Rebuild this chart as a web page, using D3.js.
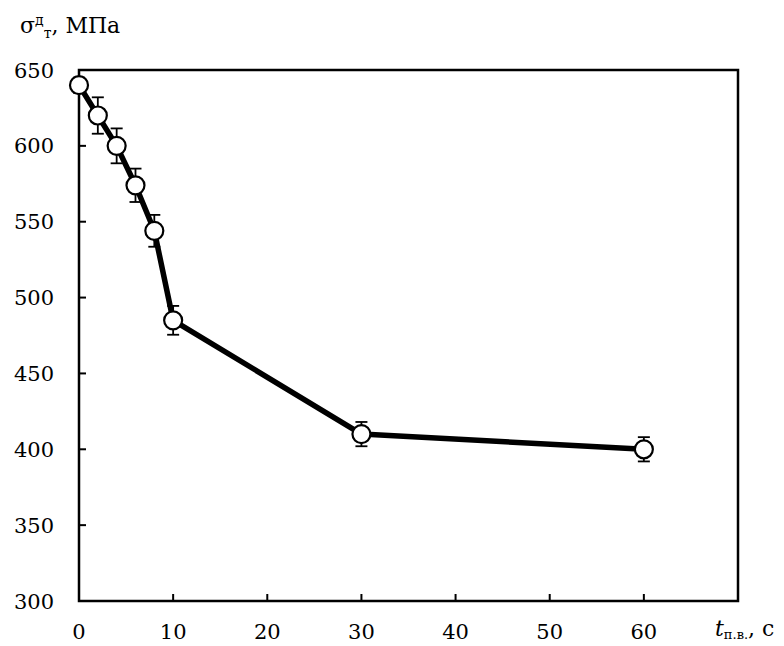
<!DOCTYPE html>
<html>
<head>
<meta charset="utf-8">
<script src="https://cdn.jsdelivr.net/npm/d3@7"></script>
<style>
  body { margin: 0; background: #fff; }
  text { font-family: "DejaVu Serif", serif; fill: #000; }
</style>
</head>
<body>
<div id="container"></div>
<script>
/* DATA */
const times = [0, 2, 4, 6, 8, 10, 30, 60];
const stress = [640, 620, 600, 574, 544, 485, 410, 400];
const errors = [5, 12, 11.5, 11, 10.5, 9.5, 8, 8];
const xTicks = [0, 10, 20, 30, 40, 50, 60];
const yTicks = [300, 350, 400, 450, 500, 550, 600, 650];

const data = times.map((t, i) => ({ t: t, s: stress[i], e: errors[i] }));

/* CONSTANTS */
const width = 784,
  height = 646,
  margin = { top: 70, right: 46, bottom: 45, left: 79 };

const svg = d3.select("#container").append("svg")
  .attr("width", width)
  .attr("height", height);

/* SCALES */
const xScale = d3.scaleLinear()
  .domain([0, 70])
  .range([margin.left, width - margin.right]);

const yScale = d3.scaleLinear()
  .domain([300, 650])
  .range([height - margin.bottom, margin.top]);

// frame
svg.append("rect")
  .attr("x", xScale(0))
  .attr("y", yScale(650))
  .attr("width", xScale(70) - xScale(0))
  .attr("height", yScale(300) - yScale(650))
  .attr("fill", "none")
  .attr("stroke", "#000")
  .attr("stroke-width", 2.5);

// inner ticks
svg.selectAll("line.xtick")
  .data(xTicks.filter(d => d > 0))
  .join("line")
  .attr("class", "xtick")
  .attr("x1", d => xScale(d)).attr("x2", d => xScale(d))
  .attr("y1", yScale(300)).attr("y2", yScale(300) - 7)
  .attr("stroke", "#000").attr("stroke-width", 2);

svg.selectAll("line.ytick")
  .data(yTicks.filter(d => d > 300 && d < 650))
  .join("line")
  .attr("class", "ytick")
  .attr("x1", xScale(0)).attr("x2", xScale(0) + 7)
  .attr("y1", d => yScale(d)).attr("y2", d => yScale(d))
  .attr("stroke", "#000").attr("stroke-width", 2);

// tick labels
svg.selectAll("text.xlab")
  .data(xTicks)
  .join("text")
  .attr("class", "xlab")
  .attr("x", d => xScale(d))
  .attr("y", 639)
  .attr("text-anchor", "middle")
  .style("font-size", "21px")
  .text(d => d);

svg.selectAll("text.ylab")
  .data(yTicks)
  .join("text")
  .attr("class", "ylab")
  .attr("x", 54)
  .attr("y", d => yScale(d) + 7.5)
  .attr("text-anchor", "end")
  .style("font-size", "21px")
  .text(d => d);

// line
const line = d3.line()
  .x(d => xScale(d.t))
  .y(d => yScale(d.s));

svg.append("path")
  .datum(data)
  .attr("d", line)
  .attr("fill", "none")
  .attr("stroke", "#000")
  .attr("stroke-width", 5.5)
  .attr("stroke-linejoin", "round");

// error bars
const eb = svg.selectAll("g.err")
  .data(data)
  .join("g")
  .attr("class", "err")
  .attr("stroke", "#000")
  .attr("stroke-width", 1.8);

eb.append("line")
  .attr("x1", d => xScale(d.t)).attr("x2", d => xScale(d.t))
  .attr("y1", d => yScale(d.s + d.e)).attr("y2", d => yScale(d.s - d.e));
eb.append("line")
  .attr("x1", d => xScale(d.t) - 6).attr("x2", d => xScale(d.t) + 6)
  .attr("y1", d => yScale(d.s + d.e)).attr("y2", d => yScale(d.s + d.e));
eb.append("line")
  .attr("x1", d => xScale(d.t) - 6).attr("x2", d => xScale(d.t) + 6)
  .attr("y1", d => yScale(d.s - d.e)).attr("y2", d => yScale(d.s - d.e));

// markers
svg.selectAll("circle.dot")
  .data(data)
  .join("circle")
  .attr("class", "dot")
  .attr("cx", d => xScale(d.t))
  .attr("cy", d => yScale(d.s))
  .attr("r", 9)
  .attr("fill", "#fff")
  .attr("stroke", "#000")
  .attr("stroke-width", 2.2);

// y axis title
const yt = svg.append("text")
  .attr("x", 20)
  .attr("y", 33)
  .style("font-size", "22px");
yt.append("tspan").text("σ");
yt.append("tspan").attr("dy", -8).style("font-size", "14px").text("д");
yt.append("tspan").attr("dy", 13).style("font-size", "14px").text("т");
yt.append("tspan").attr("dy", -5).text(", МПа");

// x axis title
const xt = svg.append("text")
  .attr("x", 715)
  .attr("y", 636)
  .style("font-size", "22px");
xt.append("tspan").style("font-style", "italic").text("t");
xt.append("tspan").attr("dy", 3).style("font-size", "13px").text("п.в.");
xt.append("tspan").attr("dy", -3).text(", с");
</script>
</body>
</html>
